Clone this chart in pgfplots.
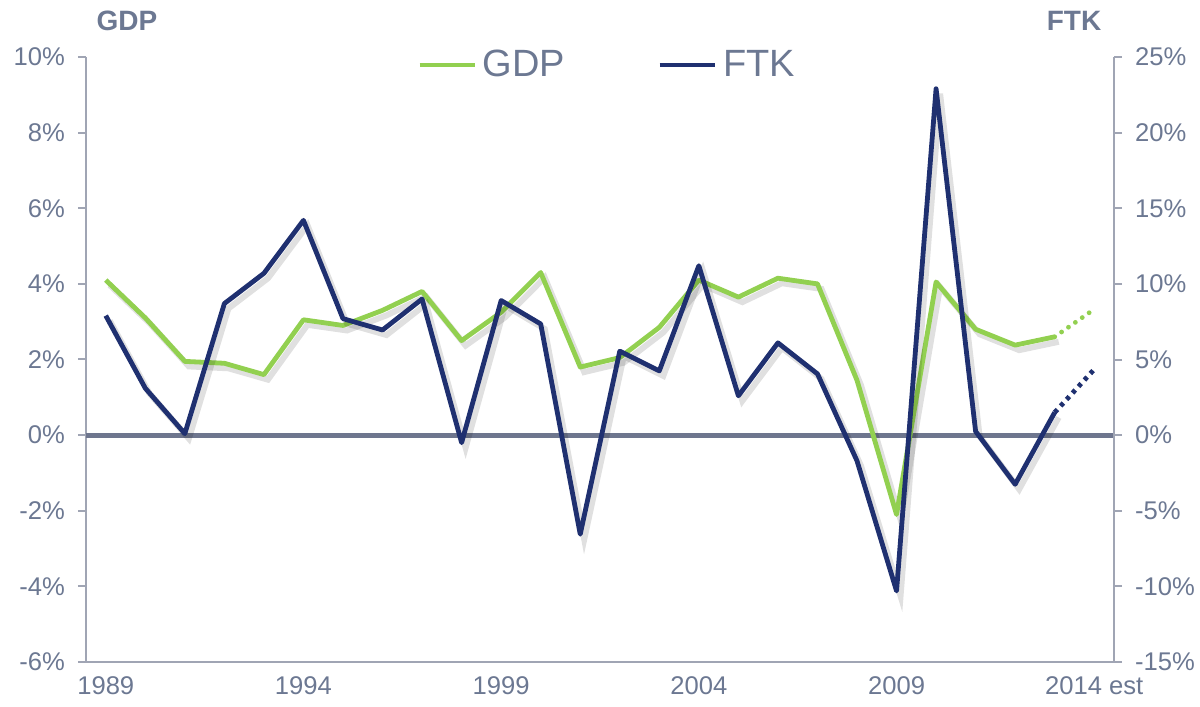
\documentclass[border=0pt]{standalone}
\usepackage{fontspec}
\setmainfont{Liberation Sans}
\usepackage{pgfplots}
\pgfplotsset{compat=1.18}
\definecolor{gdpgreen}{RGB}{146,208,80}
\definecolor{ftknavy}{RGB}{31,48,112}
\definecolor{txtgrey}{RGB}{108,120,146}
\definecolor{axgrey}{RGB}{160,165,180}
\definecolor{zerogrey}{RGB}{110,118,142}

% year index 0 = 1989 ... 25 = 2014
\pgfplotstableread{
x gdp
0 4.10
1 3.10
2 1.95
3 1.90
4 1.60
5 3.05
6 2.90
7 3.30
8 3.80
9 2.50
10 3.25
11 4.30
12 1.80
13 2.05
14 2.85
15 4.10
16 3.65
17 4.15
18 4.00
19 1.45
20 -2.10
21 4.05
22 2.80
23 2.38
24 2.60
}\gdpdata
\pgfplotstableread{
x gdp
24 2.60
25 3.33
}\gdpest
\pgfplotstableread{
x ftk
0 7.9
1 3.1
2 0.1
3 8.7
4 10.7
5 14.2
6 7.7
7 6.95
8 9.0
9 -0.5
10 8.9
11 7.35
12 -6.55
13 5.55
14 4.25
15 11.2
16 2.6
17 6.1
18 4.05
19 -1.7
20 -10.3
21 22.9
22 0.25
23 -3.25
24 1.5
}\ftkdata
\pgfplotstableread{
x ftk
24 1.5
25 4.35
}\ftkest

\begin{document}
\begin{tikzpicture}
\useasboundingbox (0,0) rectangle (600pt,353.5pt);
\pgfplotsset{
  base/.style={
    at={(43pt,22.5pt)}, anchor=south west,
    scale only axis, width=514pt, height=302.5pt,
    xmin=-0.5, xmax=25.5,
    axis line style={axgrey, line width=1pt},
    tick style={axgrey, line width=1pt},
    major tick length=4pt,
    tick align=outside,
    tick label style={font=\fontsize{12.8}{15}\selectfont, text=txtgrey},
    /pgf/number format/assume math mode=true,
  },
}
\begin{axis}[base,
  axis x line*=bottom, axis y line*=left,
  ymin=-6, ymax=10,
  ytick={-6,-4,-2,0,2,4,6,8,10},
  yticklabels={-6\%,-4\%,-2\%,0\%,2\%,4\%,6\%,8\%,10\%},
  yticklabel style={xshift=-3pt},
  xtick={0,5,10,15,20,25},
  xticklabels={1989,1994,1999,2004,2009,2014 est},
  x tick style={draw=none},
  xticklabel style={yshift=0pt},
]
\addplot[zerogrey, line width=2.5pt, forget plot] coordinates {(-0.5,0) (25.5,0)};
\addplot[black, opacity=0.12, line width=3pt, shift={(2pt,-2.5pt)}, forget plot] table[x=x,y=gdp] {\gdpdata};
\addplot[gdpgreen, line width=2.4pt, line join=round] table[x=x,y=gdp] {\gdpdata};
\addplot[gdpgreen, line width=2.4pt, line cap=round, dash pattern=on 0pt off 4.2pt] table[x=x,y=gdp] {\gdpest};
\end{axis}
\begin{axis}[base,
  axis x line=none, axis y line*=right,
  ymin=-15, ymax=25,
  ytick={-15,-10,-5,0,5,10,15,20,25},
  yticklabels={-15\%,-10\%,-5\%,0\%,5\%,10\%,15\%,20\%,25\%},
  yticklabel style={xshift=3pt},
  legend style={at={(0.5,1)}, anchor=center, xshift=4pt, yshift=-4pt, draw=none, fill=none,
    font=\fontsize{19}{22}\selectfont, text=txtgrey,
    column sep=1pt, /tikz/every even column/.append style={column sep=44pt}},
  legend columns=2,
  legend image code/.code={\draw[#1, line width=2.4pt] (0pt,0pt) -- (27.5pt,0pt);},
]
\addlegendimage{gdpgreen}
\addlegendentry{GDP}
\addplot[black, opacity=0.12, line width=3pt, shift={(2pt,-2.5pt)}, forget plot] table[x=x,y=ftk] {\ftkdata};
\addplot[ftknavy, line width=2.4pt, line join=round] table[x=x,y=ftk] {\ftkdata};
\addlegendentry{FTK}
\addplot[ftknavy, line width=2.4pt, dash pattern=on 2pt off 2.4pt, forget plot] table[x=x,y=ftk] {\ftkest};
\end{axis}
\node[font=\fontsize{14}{16}\selectfont\bfseries, text=txtgrey] at (63.5pt,343pt) {GDP};
\node[font=\fontsize{14}{16}\selectfont\bfseries, text=txtgrey] at (537pt,343pt) {FTK};
\end{tikzpicture}
\end{document}
